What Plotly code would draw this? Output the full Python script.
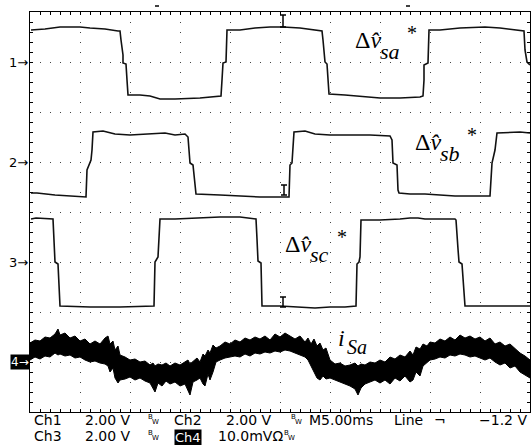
import plotly.graph_objects as go

W, H = 531, 445
L, R, T, B = 30, 1, 12, 33

# ---- data (time in ms, 5 ms/div; Ch1-3 in V at 2 V/div; Ch4 in mV at 10 mV/div)
ch1_t = [0.1, 1.5, 3.0, 5.0, 6.0, 7.5, 8.8, 9.0, 9.1, 9.3, 9.3, 9.6, 9.7, 9.8, 11.0, 12.0, 13.0, 14.5, 17.0, 18.5,
         19.1, 19.2, 19.3, 19.6, 19.7, 21.0, 22.5, 24.0, 25.3, 27.0, 28.5, 29.2, 29.3, 29.5, 29.7, 29.8, 29.9, 31.5,
         33.0, 35.0, 37.0, 39.0, 39.3, 39.4, 39.4, 39.8, 39.9, 41.0, 43.0, 45.5, 47.0, 48.5, 49.4, 49.5, 49.7, 50.0]
ch1_v = [1.28, 1.32, 1.40, 1.40, 1.36, 1.32, 1.24, 1.24, 0.88, 0.28, -0.04, -0.08, -0.72, -1.32, -1.32, -1.36, -1.48,
         -1.48, -1.44, -1.40, -1.36, -0.72, -0.04, 0.0, 1.28, 1.28, 1.36, 1.40, 1.40, 1.36, 1.28, 1.24, 0.88, 0.0,
         -0.08, -0.72, -1.28, -1.32, -1.36, -1.44, -1.44, -1.40, -1.36, -0.72, -0.12, -0.04, 1.28, 1.28, 1.36, 1.40,
         1.36, 1.28, 1.24, 0.48, 0.0, -0.12]

ch2_t = [0.1, 0.7, 2.5, 5.0, 5.6, 5.7, 5.9, 6.1, 6.2, 6.3, 7.3, 8.5, 10.0, 12.0, 13.5, 14.5, 15.5, 15.8, 15.9, 16.0,
         16.3, 16.5, 16.6, 19.0, 21.0, 23.0, 25.9, 26.0, 26.2, 26.3, 26.4, 27.5, 28.5, 30.0, 32.0, 34.0, 36.0, 36.2,
         36.3, 36.7, 36.8, 36.9, 38.0, 39.5, 41.0, 42.5, 46.0, 46.1, 46.2, 46.5, 46.7, 49.0, 50.0]
ch2_v = [-1.24, -1.24, -1.32, -1.40, -1.40, -0.32, -0.12, 0.08, 0.48, 1.20, 1.24, 1.12, 1.08, 1.12, 1.16, 1.08, 1.12,
         1.00, 0.48, -0.04, -0.12, -1.12, -1.28, -1.32, -1.36, -1.40, -1.40, -0.12, -0.04, 0.48, 1.20, 1.24, 1.12,
         1.08, 1.08, 1.08, 1.04, 0.88, -0.04, -0.12, -1.12, -1.24, -1.28, -1.28, -1.32, -1.36, -1.36, -0.32, -0.04,
         0.48, 1.16, 1.20, 1.16]

ch3_t = [0.1, 0.6, 2.3, 2.4, 2.5, 2.8, 2.9, 3.0, 6.0, 9.0, 12.4, 12.5, 12.8, 13.0, 14.5, 17.0, 19.0, 21.0, 22.0, 22.5,
         22.6, 22.7, 22.8, 23.1, 23.2, 25.0, 27.0, 28.5, 30.0, 31.5, 32.6, 32.7, 32.9, 33.0, 33.1, 35.0, 37.0, 38.0,
         38.8, 39.5, 42.5, 42.6, 42.8, 42.9, 43.2, 43.4, 43.5, 50.0]
ch3_v = [1.72, 1.76, 1.72, 0.92, 0.0, -0.08, -1.08, -1.76, -1.80, -1.80, -1.76, 0.0, 0.20, 1.72, 1.72, 1.76, 1.80,
         1.80, 1.76, 1.72, 1.72, 0.92, 0.04, -0.04, -1.76, -1.76, -1.80, -1.84, -1.80, -1.80, -1.76, -0.08, 0.0, 0.20,
         1.68, 1.68, 1.72, 1.76, 1.76, 1.72, 1.72, 1.68, 0.52, 0.0, -0.08, -1.08, -1.76, -1.76]

ch4_t = [0.0, 0.5, 1.0, 1.5, 2.0, 2.5, 2.8, 3.0, 3.5, 4.0, 4.5, 5.0, 5.5, 6.0, 6.5, 7.0, 7.5, 7.8, 8.0, 8.3, 8.5, 8.8,
         9.0, 9.5, 10.0, 10.5, 11.0, 11.5, 12.0, 12.3, 12.5, 12.8, 13.2, 13.6, 14.0, 14.5, 15.0, 15.5, 15.8, 16.0,
         16.3, 16.7, 17.0, 17.3, 17.5, 17.8, 18.0, 18.3, 18.6, 19.0, 19.5, 20.0, 20.5, 21.0, 21.5, 22.0, 22.5, 23.0,
         23.5, 24.0, 24.5, 25.0, 25.5, 26.0, 26.5, 27.0, 27.5, 27.8, 28.1, 28.4, 28.7, 29.0, 29.3, 29.6, 30.0, 30.5,
         31.0, 31.5, 32.0, 32.5, 32.8, 33.1, 33.5, 34.0, 34.5, 35.0, 35.5, 36.0, 36.5, 37.0, 37.5, 38.0, 38.3, 38.6,
         39.0, 39.3, 39.7, 40.0, 40.5, 41.0, 41.5, 42.0, 42.5, 43.0, 43.5, 44.0, 44.5, 45.0, 45.5, 46.0, 46.5, 47.0,
         47.5, 48.0, 48.5, 49.0, 49.5, 50.0]
ch4_top = [3.8, 4.4, 4.2, 5.0, 4.8, 5.6, 6.6, 5.4, 5.8, 4.8, 5.2, 4.2, 4.6, 3.6, 4.2, 3.6, 4.8, 5.2, 3.6, 4.2, 2.4,
           3.2, 1.4, 1.0, 0.4, 0.6, 0.0, 0.2, -0.6, -0.2, -0.8, -0.4, -0.6, -0.2, -0.8, -0.2, -0.6, 0.0, 0.4, -0.4,
           0.2, 0.8, 0.0, 1.6, 1.2, 2.4, 1.8, 3.4, 2.8, 3.2, 4.0, 3.6, 4.4, 4.0, 4.8, 4.4, 5.0, 4.6, 5.2, 4.4, 5.6,
           5.0, 5.8, 5.2, 4.6, 5.2, 4.0, 4.8, 3.6, 4.6, 3.2, 3.8, 2.4, 2.8, 0.4, -0.4, -0.2, -0.8, -0.6, -0.2, -0.8,
           -0.4, -0.6, 0.0, -0.2, 0.4, 0.0, 1.0, 0.6, 1.4, 1.0, 2.2, 1.4, 3.0, 2.6, 3.6, 3.2, 4.0, 3.8, 4.6, 4.2,
           5.0, 4.4, 5.4, 4.8, 5.2, 4.6, 5.0, 4.2, 4.8, 3.6, 4.0, 3.2, 3.6, 2.6, 1.8, 1.2, 0.4]
ch4_bot = [0.4, 1.0, 0.6, 1.2, 1.0, 1.8, 1.4, 1.6, 1.2, 1.4, 0.8, 1.0, 0.4, 0.0, 0.2, -0.2, -0.4, -0.8, -2.0, -1.2,
           -3.2, -4.2, -3.6, -3.4, -3.0, -3.6, -3.2, -3.8, -4.2, -5.2, -6.0, -4.2, -4.8, -3.8, -4.4, -4.0, -4.8,
           -4.4, -5.6, -6.6, -4.0, -3.6, -3.2, -4.4, -4.8, -2.4, -3.6, -2.0, 0.0, 0.4, 0.8, 1.0, 1.2, 1.0, 1.6, 1.2,
           1.8, 1.6, 2.0, 1.8, 2.2, 2.0, 2.4, 2.2, 1.8, 1.4, 1.0, 0.4, -0.8, -2.0, -3.2, -3.6, -2.8, -3.4, -3.2,
           -3.6, -4.0, -4.4, -4.8, -5.4, -6.6, -5.2, -4.4, -4.0, -3.6, -4.2, -3.6, -4.4, -3.2, -3.8, -2.8, -4.0,
           -3.6, -2.0, -2.8, -0.8, -0.2, 0.4, 0.6, 1.0, 0.8, 1.4, 1.2, 1.6, 1.4, 1.0, 1.2, 0.8, 0.4, 0.8, 0.0, -0.6,
           -0.2, -1.2, -0.8, -2.0, -2.6, -3.2]

ch_offsets = [3, 1, -1, -3]          # divisions
ch_scales = [2.0, 2.0, 2.0, 10.0]     # V/div, V/div, V/div, mV/div
cursor_t = [25.3, 25.4, 25.3]
cursor_y = [(3.94, 3.70), (0.54, 0.34), (-1.70, -1.90)]

status_row1 = [("Ch1", 33), ("2.00 V", 84), ("Ch2", 173), ("2.00 V", 225), ("M5.00ms", 308),
               ("Line", 393), ("\u00ac", 433), ("\u22121.2 V", 478)]
status_row2 = [("Ch3", 33), ("2.00 V", 84), ("10.0mV\u03a9", 217)]
bw_row1 = [147, 290]
bw_row2 = [147, 283]

# ---- helpers
PW, PH = W - L - R, H - T - B
def X(px): return (px - L) / PW
def Y(py): return (H - B - py) / PH

fig = go.Figure()
for t, v, off, sc in zip([ch1_t, ch2_t, ch3_t], [ch1_v, ch2_v, ch3_v], ch_offsets[:3], ch_scales[:3]):
    fig.add_trace(go.Scatter(x=t, y=[off + val / sc for val in v], mode="lines",
                             line=dict(color="#111", width=1.6), hoverinfo="skip"))

xs = ch4_t + ch4_t[::-1]
ys = [ch_offsets[3] + v / ch_scales[3] for v in ch4_top] + [ch_offsets[3] + v / ch_scales[3] for v in ch4_bot[::-1]]
fig.add_trace(go.Scatter(x=xs, y=ys, mode="lines", fill="toself", fillcolor="black",
                         line=dict(color="black", width=1), hoverinfo="skip"))

shapes = []
for ct, (y0, y1) in zip(cursor_t, cursor_y):
    shapes.append(dict(type="line", x0=ct, x1=ct, y0=y0, y1=y1, line=dict(color="black", width=1.5)))
    for yy in (y0, y1):
        shapes.append(dict(type="line", x0=ct - 0.3, x1=ct + 0.3, y0=yy, y1=yy, line=dict(color="black", width=1.5)))
for px in (157, 408):
    shapes.append(dict(type="line", xref="paper", yref="paper", x0=X(px - 2), x1=X(px + 2), y0=Y(6), y1=Y(6),
                       line=dict(color="black", width=1.5)))

anns = []
def ann(text, xpx, ypx, size=14, xanchor="left", family="DejaVu Sans", color="black", bg=None):
    d = dict(text=text, x=X(xpx), y=Y(ypx), xref="paper", yref="paper", xanchor=xanchor, yanchor="middle",
             showarrow=False, font=dict(size=size, family=family, color=color), borderpad=0)
    if bg:
        d["bgcolor"] = bg
    anns.append(d)

for txt, xp in status_row1:
    ann(txt, xp, 420)
for txt, xp in status_row2:
    ann(txt, xp, 436)
ann("Ch4", 174, 437, size=13, color="white", bg="black")
for xp in bw_row1:
    ann("B", xp, 417, size=7); ann("W", xp + 4, 422, size=7)
for xp in bw_row2:
    ann("B", xp, 433, size=7); ann("W", xp + 4, 438, size=7)

for i, yp in enumerate([62, 162, 262]):
    ann(f"{i+1}\u2192", 29, yp, size=13, xanchor="right")
ann("4\u2192", 30, 362, size=12, xanchor="right", color="white", bg="black")

serif = "Liberation Serif"
for lab, (lx, ly) in zip(["sa", "sb", "sc"], [(355, 48), (415, 150), (285, 252)]):
    ann("\u0394<i>v\u0302</i>", lx - 1, ly - 8, size=24, family=serif)
    ann(f"<i>{lab}</i>", lx + 24, ly + 3, size=22, family=serif)
    ann("*", lx + 51, ly - 15, size=20, family=serif)
ann("<i>i</i>", 337, 338, size=24, family=serif)
ann("<i>Sa</i>", 346, 347, size=20, family=serif)

axis_common = dict(showgrid=True, gridcolor="#444", griddash="1px,9px", gridwidth=1, zeroline=False,
                   showline=True, linecolor="black", linewidth=1, mirror="allticks", ticks="inside",
                   ticklen=3, tickcolor="black", showticklabels=False, fixedrange=True)
fig.update_layout(
    width=W, height=H, margin=dict(l=L, r=R, t=T, b=B), paper_bgcolor="white", plot_bgcolor="white",
    showlegend=False,
    xaxis=dict(range=[0, 50], dtick=5, tick0=0, minor=dict(dtick=1, ticks="inside", ticklen=3, tickcolor="black"),
               **axis_common),
    yaxis=dict(range=[-4, 4], dtick=1, tick0=0, minor=dict(dtick=0.2, ticks="inside", ticklen=3, tickcolor="black"),
               **axis_common),
    shapes=shapes, annotations=anns,
)
fig.write_html("out.html", config={"displayModeBar": False, "staticPlot": True},
               post_script="document.body.style.margin='0px';document.body.style.overflow='hidden';")
